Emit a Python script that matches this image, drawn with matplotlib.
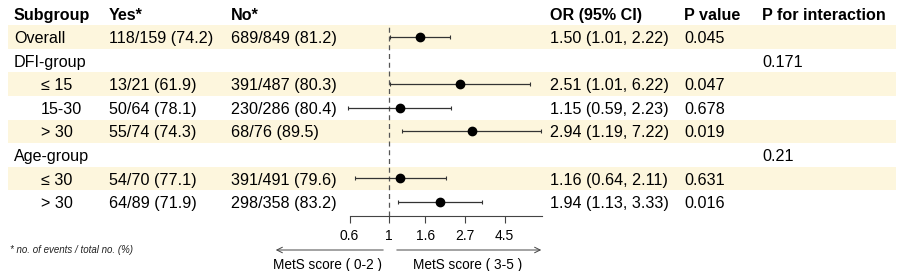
import numpy as np
import matplotlib
matplotlib.use('Agg')
import matplotlib.pyplot as plt
from matplotlib.patches import Rectangle

plt.rcParams['font.family'] = ['Liberation Sans', 'DejaVu Sans']

# table data
subgroups = ["Overall", "DFI-group", "≤ 15", "15-30", "> 30", "Age-group", "≤ 30", "> 30"]
indent = [0, 0, 1, 1, 1, 0, 1, 1]
yes = ["118/159 (74.2)", "", "13/21 (61.9)", "50/64 (78.1)", "55/74 (74.3)", "",
       "54/70 (77.1)", "64/89 (71.9)"]
no = ["689/849 (81.2)", "", "391/487 (80.3)", "230/286 (80.4)", "68/76 (89.5)", "",
      "391/491 (79.6)", "298/358 (83.2)"]
est = [1.50, np.nan, 2.51, 1.15, 2.94, np.nan, 1.16, 1.94]
low = [1.01, np.nan, 1.01, 0.59, 1.19, np.nan, 0.64, 1.13]
high = [2.22, np.nan, 6.22, 2.23, 7.22, np.nan, 2.11, 3.33]
pval = ["0.045", "", "0.047", "0.678", "0.019", "", "0.631", "0.016"]
p_int = ["", "0.171", "", "", "", "0.21", "", ""]
headers = ["Subgroup", "Yes*", "No*", "OR (95% CI)", "P value", "P for interaction"]
xticks = [0.6, 1, 1.6, 2.7, 4.5]

W, H = 899, 271
fig = plt.figure(figsize=(W / 100, H / 100), dpi=100)

# background axes in pixel units
bg = fig.add_axes([0, 0, 1, 1])
bg.set_xlim(0, W)
bg.set_ylim(H, 0)
bg.axis('off')

row0, dy = 37, 23.6
n = len(subgroups)
col_x = [14, 109, 231, 550, 684, 762]
fs = 11.6

for i in range(n):
    y = row0 + i * dy
    if i % 2 == 0:
        bg.add_patch(Rectangle((8, y - dy / 2), 888, dy, color='#fdf6dd', lw=0, zorder=0))
    bg.text(col_x[0] + 27 * indent[i], y, subgroups[i], fontsize=fs, va='center_baseline')
    bg.text(col_x[1], y, yes[i], fontsize=fs, va='center_baseline')
    bg.text(col_x[2], y, no[i], fontsize=fs, va='center_baseline')
    if not np.isnan(est[i]):
        bg.text(col_x[3], y, "%.2f (%.2f, %.2f)" % (est[i], low[i], high[i]),
                fontsize=fs, va='center_baseline')
    bg.text(col_x[4], y, pval[i], fontsize=fs, va='center_baseline')
    bg.text(col_x[5], y, p_int[i], fontsize=fs, va='center_baseline')

for x, h in zip(col_x, headers):
    bg.text(x, 14, h, fontsize=fs, fontweight='bold', va='center_baseline')

bg.text(10, 249, "* no. of events / total no. (%)", fontsize=7, style='italic',
        va='center_baseline', color='#222222')

# arrows under the axis
bg.annotate("", xy=(273, 250), xytext=(386, 250),
            arrowprops=dict(arrowstyle='->', color='#444444', lw=0.7))
bg.annotate("", xy=(544, 250), xytext=(394, 250),
            arrowprops=dict(arrowstyle='->', color='#444444', lw=0.7))
bg.text(273, 263, "MetS score ( 0-2 )", fontsize=9.8, va='center_baseline')
bg.text(413, 263, "MetS score ( 3-5 )", fontsize=9.8, va='center_baseline')

# forest panel
xlo, xhi = 0.58, 7.3
left_px, right_px = 347, 542
top_px, bot_px = 25, 216
ax = fig.add_axes([left_px / W, (H - bot_px) / H, (right_px - left_px) / W,
                   (bot_px - top_px) / H])
ax.patch.set_alpha(0)
ax.set_xscale('log')
ax.set_xlim(xlo, xhi)

rows = np.arange(n)
est_a, low_a, high_a = np.array(est), np.array(low), np.array(high)
ok = ~np.isnan(est_a)
ax.errorbar(est_a[ok], rows[ok], xerr=[est_a[ok] - low_a[ok], high_a[ok] - est_a[ok]],
            fmt='o', color='black', ecolor='#333333', elinewidth=0.9, capsize=1.5,
            capthick=0.8, markersize=6, zorder=3)
ax.axvline(1, ymin=0.0, ymax=1, color='#555555', lw=0.9, ls=(0, (4, 3)), zorder=2)
ax.set_ylim(n - 0.5 + 0.09, -0.5)

for s in ['top', 'right', 'left']:
    ax.spines[s].set_visible(False)
ax.spines['bottom'].set_bounds(0.6, xhi)
ax.spines['bottom'].set_color('#444444')
ax.spines['bottom'].set_linewidth(0.8)
ax.set_yticks([])
ax.set_xticks(xticks)
ax.set_xticklabels([str(t) for t in xticks])
ax.minorticks_off()
ax.tick_params(axis='x', length=5, width=0.8, color='#444444', labelsize=10, pad=4)

fig.savefig('out.png', dpi=100)
